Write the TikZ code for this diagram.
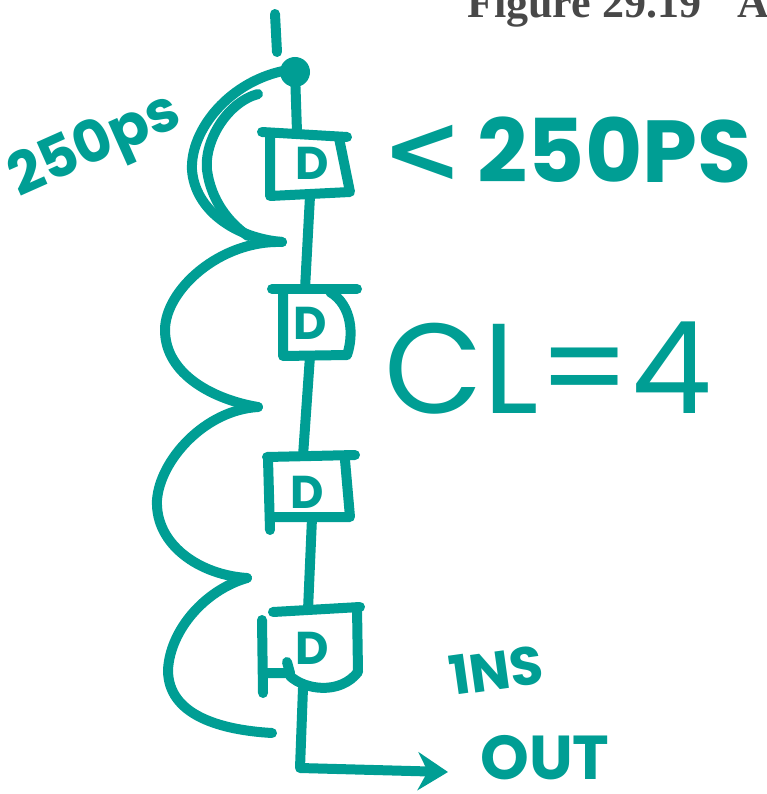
\documentclass[tikz,border=0pt]{standalone}
\usepackage{fontspec}
\setmainfont{Liberation Serif}
\newfontfamily\hand{Poppins}
\newfontfamily\sym{DejaVu Sans}
\usetikzlibrary{arrows.meta}
\definecolor{ink}{RGB}{0,158,148}
\definecolor{titlegray}{RGB}{72,72,72}
\begin{document}
\begin{tikzpicture}[x=1pt,y=-1pt,
  pen/.style={draw=ink,line width=10pt,line cap=round,line join=round},
  hw/.style={text=ink,inner sep=0pt},
  ttl/.style={anchor=base west,text=titlegray,inner sep=0pt,font=\fontsize{44}{44}\selectfont\bfseries},
  dlab/.style={hw,font=\hand\bfseries\fontsize{46}{46}\selectfont}]
\useasboundingbox (0,0) rectangle (766,794);
\clip (0,0) rectangle (766,794);
% title
\node[ttl] (title) at (467,18) {Figure 29.19};
\node[ttl] (titleA) at (737,18) {A};
% input tick and blob
\coordinate (tickT) at (275,14);
\coordinate (tickB) at (277,52);
\draw[pen] (tickT) -- (tickB);
\node[circle,fill=ink,minimum size=30pt,inner sep=0pt] (blob) at (295,72) {};
% box coordinates
\coordinate (b1t) at (297,132); \coordinate (b1b) at (310,196);
\coordinate (b2t) at (305,289); \coordinate (b2b) at (310,356);
\coordinate (b3t) at (303,456); \coordinate (b3b) at (312,518);
\coordinate (b4t) at (308,610); \coordinate (b4b) at (303,688);
\coordinate (corner) at (300,768);
\coordinate (outend) at (448,772);
% box 1
\draw[pen] (262,132) -- (347,137);
\draw[pen] (270,134) -- (270,196) -- (350,192) -- (339,138);
% box 2
\draw[pen] (272,289) -- (357,289);
\draw[pen] (283,291) -- (283,356) -- (347,355) .. controls (354,335) and (352,305) .. (330,292);
% box 3
\draw[pen] (267,457) -- (355,455);
\draw[pen] (268,459) -- (270,530);
\draw[pen] (270,517) -- (350,517) -- (345,460);
% box 4
\draw[pen] (273,612) -- (360,607);
\draw[pen] (262,620) -- (263,693);
\draw[pen] (263,673) -- (290,673) -- (287,662);
\draw[pen] (290,676) .. controls (305,690) and (340,695) .. (358,672) -- (357,607);
% D labels
\node[dlab] (d1) at (312,163) {D};
\node[dlab] (d2) at (310,323) {D};
\node[dlab] (d3) at (307,492) {D};
\node[dlab] (d4) at (312,648) {D};
% wires
\draw[pen] (blob.center) -- (b1t);
\draw[pen] (b1b) -- (b2t);
\draw[pen] (b2b) -- (b3t);
\draw[pen] (b3b) -- (b4t);
\draw[pen,-{Stealth[length=30pt,width=38pt]}] (b4b) -- (corner) -- (outend);
% feedback loops
\coordinate (c0) at (288,70);
\coordinate (c1) at (282,242);
\coordinate (c2) at (258,407);
\coordinate (c3) at (247,578);
\coordinate (c4) at (272,733);
\draw[pen] (c0) .. controls (230,80) and (190,130) .. (192,170) .. controls (195,210) and (235,238) .. (c1);
\draw[pen] (258,94) .. controls (228,102) and (204,140) .. (207,170) .. controls (211,200) and (228,222) .. (248,236);
\draw[pen] (c1) .. controls (220,240) and (165,290) .. (165,330) .. controls (165,375) and (215,400) .. (c2);
\draw[pen] (c2) .. controls (205,410) and (160,460) .. (157,500) .. controls (155,545) and (200,575) .. (c3);
\draw[pen] (c3) .. controls (205,590) and (170,630) .. (168,670) .. controls (168,715) and (220,730) .. (c4);
% handwritten labels
\node[hw,font=\hand\bfseries\fontsize{58}{58}\selectfont,rotate=24] (lbl) at (96,148) {250ps};
\node[hw,font=\hand\bfseries\fontsize{88}{88}\selectfont] (lt) at (567,150) {{\sym\bfseries\fontsize{96}{96}\selectfont<}\,250PS};
\node[hw,font=\hand\fontsize{128}{128}\selectfont] (cl) at (548,368) {CL=4};
\node[hw,font=\hand\bfseries\fontsize{54}{54}\selectfont,rotate=8] (ns) at (496,670) {1NS};
\node[hw,font=\hand\bfseries\fontsize{62}{62}\selectfont] (out) at (545,758) {OUT};
\end{tikzpicture}
\end{document}
